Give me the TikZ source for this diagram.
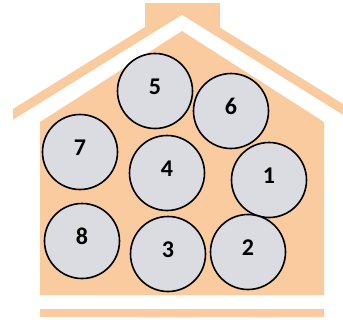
\documentclass[tikz,border=0pt]{standalone}
\usepackage{fontspec}
\setmainfont{Carlito}
\definecolor{peach}{RGB}{251,203,160}
\definecolor{ballgray}{RGB}{218,220,225}
\begin{document}
\begin{tikzpicture}[x=1pt,y=-1pt,
  ball/.style={circle, draw=black, line width=1.6pt, fill=ballgray, minimum size=75pt, inner sep=0pt,
    font=\bfseries\fontsize{24}{26}\selectfont, text depth=9pt}]
\useasboundingbox (0,0) rectangle (343,324);
% house
\fill[peach] (145,3) rectangle (220,45);
\fill[peach] (13,109) -- (182,4) -- (343,104) -- (343,115) -- (182,15) -- (13,120) -- cycle;
\fill[white] (13,120) -- (182,15) -- (343,115) -- (343,324) -- (0,324) -- (0,120) -- cycle;
\fill[peach] (40,295) -- (40,122) -- (182,31) -- (324,122) -- (324,295) -- cycle;
\fill[peach] (40,309) rectangle (324,317);
% balls
\node[ball] (b5) at (155,91) {5};
\node[ball] (b6) at (231,111) {6};
\node[ball] (b7) at (80,152) {7};
\node[ball] (b4) at (167,173) {4};
\node[ball] (b1) at (269,180) {1};
\node[ball] (b8) at (82,241) {8};
\node[ball] (b3) at (168,254) {3};
\node[ball] (b2) at (248,252) {2};
\end{tikzpicture}
\end{document}
